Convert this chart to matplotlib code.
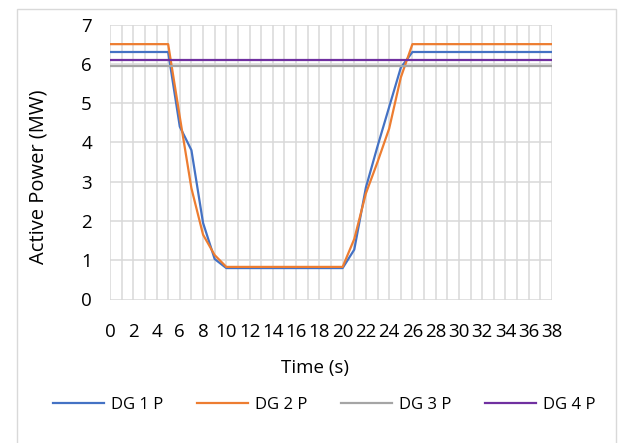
import matplotlib
matplotlib.use("Agg")
import matplotlib.pyplot as plt
from matplotlib.patches import Rectangle
from matplotlib.ticker import MultipleLocator

plt.rcParams['font.family'] = ['Open Sans', 'DejaVu Sans']

time_s = list(range(0, 39))
dg1 = [6.3]*6 + [4.4, 3.8, 1.95, 1.03] + [0.8]*11 + [1.27, 2.85, 3.9, 4.9, 5.9] + [6.3]*13
dg2 = [6.5]*6 + [4.65, 2.83, 1.65, 1.13] + [0.83]*11 + [1.54, 2.7, 3.5, 4.35, 5.65] + [6.5]*13
dg3 = [5.95]*39
dg4 = [6.1]*39
series = [("DG 1 P", dg1, "#4472C4"), ("DG 2 P", dg2, "#ED7D31"),
          ("DG 3 P", dg3, "#A5A5A5"), ("DG 4 P", dg4, "#7030A0")]

W, H = 624, 443
fig = plt.figure(figsize=(W/100, H/100), dpi=100)
ax = fig.add_axes([110/W, 1-299.5/H, (552-110)/W, (299.5-24.5)/H])

fig.patches.append(Rectangle((17/W, -0.05), (616-17)/W, 1-9/H+0.05,
                             transform=fig.transFigure, fill=False,
                             edgecolor="#D9D9D9", linewidth=1.0))

for name, vals, col in series:
    ax.plot(time_s, vals, color=col, linewidth=1.6, label=name, solid_joinstyle='round')

ax.set_xlim(0, 38)
ax.set_ylim(0, 7)
ax.xaxis.set_major_locator(MultipleLocator(2))
ax.xaxis.set_minor_locator(MultipleLocator(1))
ax.yaxis.set_major_locator(MultipleLocator(1))
ax.grid(True, which='both', axis='x', color="#D9D9D9", linewidth=1.1)
ax.grid(True, which='major', axis='y', color="#D9D9D9", linewidth=1.1)
ax.set_axisbelow(True)
for s in ax.spines.values():
    s.set_visible(False)
ax.tick_params(which='both', length=0)
ax.tick_params(axis='x', labelsize=13.5, pad=17, colors="#000000")
ax.tick_params(axis='y', labelsize=13.5, pad=13, colors="#000000")

fig.text(315/W, 1-368/H, "Time (s)", ha='center', va='center', fontsize=13.5)
fig.text(39/W, 1-177/H, "Active Power (MW)", ha='center', va='center', rotation=90, fontsize=14.5)

handles, labels = ax.get_legend_handles_labels()
fig.legend(handles, labels, loc='center', bbox_to_anchor=(324/W, 1-405/H), ncol=4,
           frameon=False, fontsize=12, handlelength=3.1, handletextpad=0.4,
           columnspacing=2.0)

fig.savefig("out.png", dpi=100)
